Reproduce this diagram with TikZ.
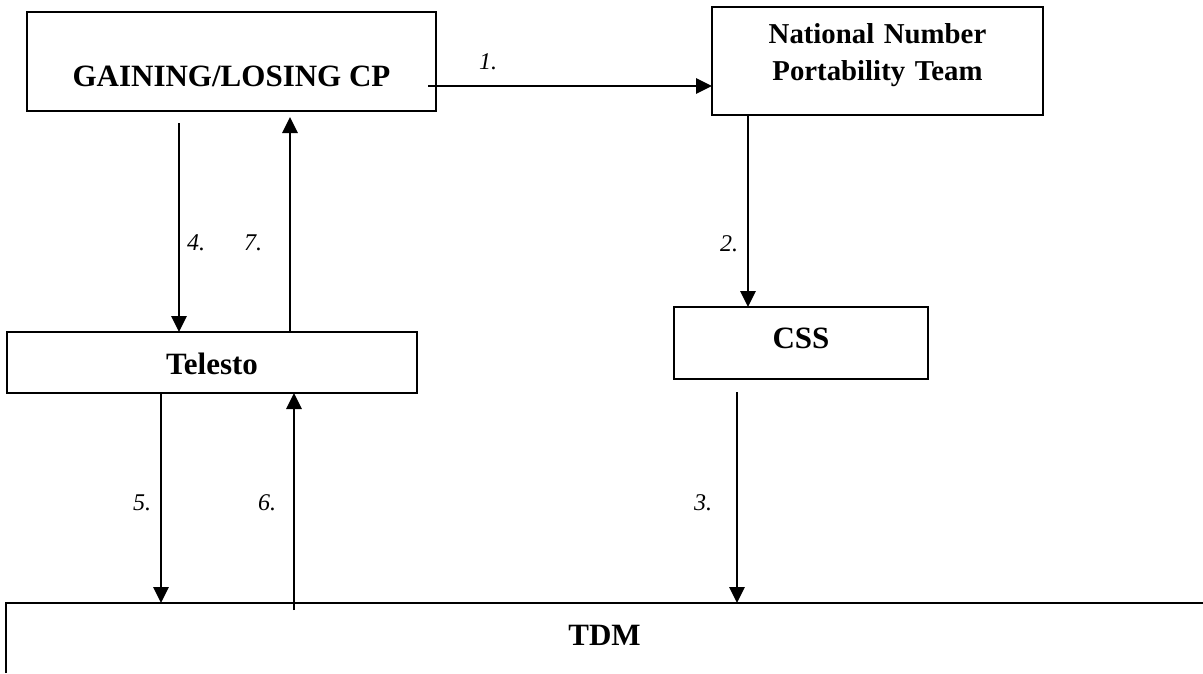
\documentclass[tikz,border=0pt]{standalone}
\usepackage{fontspec}
\setmainfont{Liberation Serif}
\usetikzlibrary{arrows.meta}
\begin{document}
\begin{tikzpicture}[x=1pt,y=-1pt,
  box/.style={draw, line width=2.4pt, inner sep=0pt, outer sep=0pt, anchor=north west,
    font=\fontsize{31}{36}\selectfont\bfseries},
  flow/.style={line width=2.8pt, -{Triangle[length=16pt,width=15pt]}},
  num/.style={font=\fontsize{24}{28}\selectfont\itshape, inner sep=0pt}]
\useasboundingbox (0,0) rectangle (1203,673);
% boxes
\node[box, minimum width=409pt, text height=74pt, text depth=25pt] (gcp) at (27,12) {GAINING/LOSING CP};
\node[box, text width=331pt, align=center, text height=36pt, text depth=72pt,
  font=\fontsize{28.8}{37}\selectfont\bfseries] (nnp) at (712,7) {National Number\\Portability Team};
\node[box, minimum width=410pt, text height=42pt, text depth=19pt] (tele) at (7,332) {Telesto};
\node[box, minimum width=254pt, text height=41pt, text depth=31pt] (css) at (674,307) {CSS};
\node[box, draw=none, minimum width=1197pt, text height=42pt, text depth=28pt] (tdm) at (6,603) {TDM};
\draw[line width=2.4pt] (tdm.south west) |- (tdm.north east);
% free ends
\coordinate (s3) at (737,392);
\coordinate (s4) at (179,123);
\coordinate (e7) at (290,117);
\coordinate (s5) at (161,392);
\coordinate (s6) at (294,610);
\coordinate (c2) at (748,0);
% connectors
\draw[flow] ([xshift=-8pt]gcp.base east) -- (nnp.west |- gcp.base east);
\draw[flow] (c2 |- nnp.south) -- (c2 |- css.north);
\draw[flow] (s3) -- (s3 |- tdm.north);
\draw[flow] (s4) -- (s4 |- tele.north);
\draw[flow] (e7 |- tele.north) -- (e7);
\draw[flow] (s5 |- tele.south) -- (s5 |- tdm.north);
\draw[flow] (s6) -- (s6 |- tele.south);
% labels
\node[num] (l1) at (488,62) {1.};
\node[num] (l2) at (729,244) {2.};
\node[num] (l3) at (703,503) {3.};
\node[num] (l4) at (196,243) {4.};
\node[num] (l5) at (142,503) {5.};
\node[num] (l6) at (267,503) {6.};
\node[num] (l7) at (253,243) {7.};
\end{tikzpicture}
\end{document}
